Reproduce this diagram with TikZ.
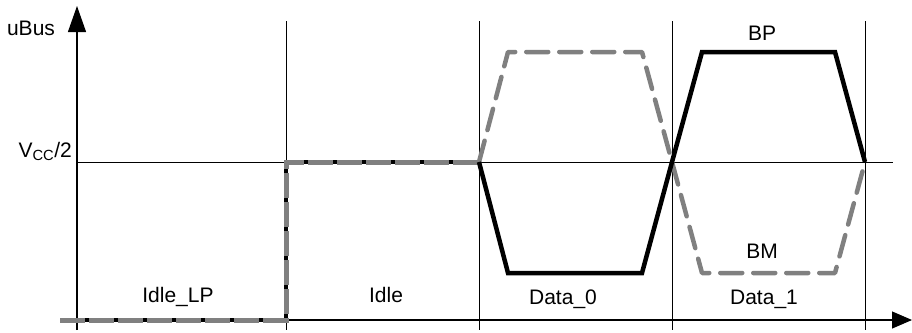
\documentclass[tikz,border=0pt]{standalone}
\usepackage{fontspec}
\setmainfont{Liberation Sans}
\usetikzlibrary{arrows.meta}
\begin{document}
\begin{tikzpicture}[x=1pt,y=-1pt,
  grid/.style={line width=0.9pt,black},
  axis/.style={line width=1.1pt,black},
  lbl/.style={inner sep=0pt,font=\fontsize{21}{24}\selectfont},
  bp/.style={line width=4.5pt,black,line join=miter},
  bm/.style={line width=4.5pt,draw={rgb,255:red,128;green,128;blue,128},dash pattern=on 22pt off 11pt,line cap=round,line join=round},
  both/.style={line width=5pt,draw={rgb,255:red,128;green,128;blue,128},dash pattern=on 25pt off 4pt,line cap=butt},
]
\useasboundingbox (0,0) rectangle (912,332);
% coordinates
\coordinate (o) at (77,330);
\coordinate (ytip) at (77,6);
\coordinate (xs) at (60,320);
\coordinate (xtip) at (912,320);
\coordinate (v1t) at (286,21); \coordinate (v1b) at (286,330);
\coordinate (v2t) at (479,21); \coordinate (v2b) at (479,330);
\coordinate (v3t) at (672,21); \coordinate (v3b) at (672,330);
\coordinate (v4t) at (865,21); \coordinate (v4b) at (865,330);
\coordinate (hs) at (77,162); \coordinate (he) at (893,162);
% grid
\draw[grid] (v1t) -- (v1b);
\draw[grid] (v2t) -- (v2b);
\draw[grid] (v3t) -- (v3b);
\draw[grid] (v4t) -- (v4b);
\draw[grid] (hs) -- (he);
% axes
\draw[axis,-{Triangle[length=26pt,width=18pt]}] (o) -- (ytip);
\draw[axis,-{Triangle[length=20pt,width=17pt]}] (xs) -- (xtip);
% signal points
\coordinate (s0) at (60,320);
\coordinate (s1) at (286,320);
\coordinate (s2) at (286,162);
\coordinate (s3) at (479,162);
\coordinate (p1) at (508,273); \coordinate (p2) at (642,273);
\coordinate (p3) at (672,162);
\coordinate (p4) at (702,52); \coordinate (p5) at (835,52);
\coordinate (p6) at (865,162);
\coordinate (m1) at (508,52); \coordinate (m2) at (642,52);
\coordinate (m4) at (702,273); \coordinate (m5) at (835,273);
% common idle trace
\draw[line width=4.2pt,black] (s0) -- (s1) -- (s2) -- (s3);
\draw[both] (s0) -- (s1) -- (s2) -- (s3);
% BM
\draw[bm] (s3) -- (m1) -- (m2) -- (p3) -- (m4) -- (m5) -- (p6);
% BP
\draw[bp] (s3) -- (p1) -- (p2) -- (p3) -- (p4) -- (p5) -- (p6);
% labels
\node[lbl] (ubus) at (31,28) {uBus};
\node[lbl,anchor=base east] (vcc) at (72,157) {V\textsubscript{CC}/2};
\node[lbl] (idlelp) at (178,297) {Idle\_LP};
\node[lbl] (idle) at (386,295) {Idle};
\node[lbl] (d0) at (563,299) {Data\_0};
\node[lbl] (d1) at (764,299) {Data\_1};
\node[lbl] (bplbl) at (762,33) {BP};
\node[lbl] (bmlbl) at (762,251) {BM};
\end{tikzpicture}
\end{document}
